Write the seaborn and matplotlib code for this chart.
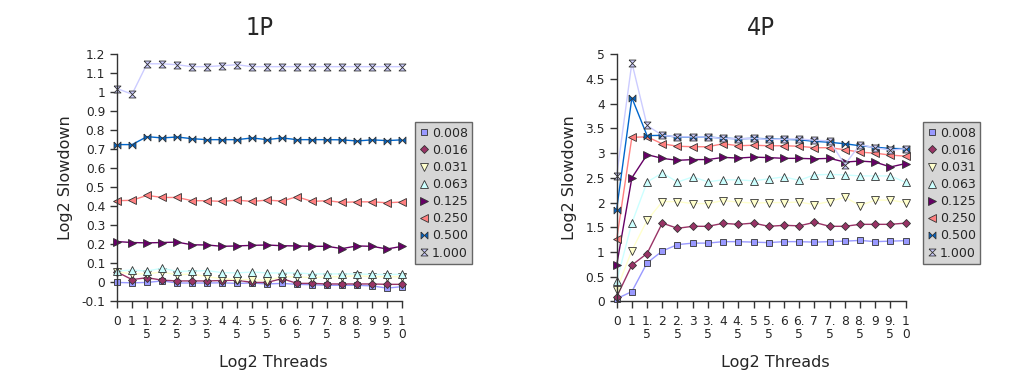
import numpy as np
import matplotlib
matplotlib.use("Agg")
import matplotlib.pyplot as plt
from matplotlib.lines import Line2D
import seaborn as sns

threads = ["0", "1", "1.5", "2", "2.5", "3", "3.5", "4", "4.5", "5",
           "5.5", "6", "6.5", "7", "7.5", "8", "8.5", "9", "9.5", "10"]
tick_labels = ["0", "1", "1.\n5", "2", "2.\n5", "3", "3.\n5", "4", "4.\n5", "5",
               "5.\n5", "6", "6.\n5", "7", "7.\n5", "8", "8.\n5", "9", "9.\n5", "1\n0"]
series_names = ["0.008", "0.016", "0.031", "0.063", "0.125", "0.250", "0.500", "1.000"]
colors = ["#9999FF", "#993366", "#FFFFCC", "#CCFFFF", "#660066", "#FF8080", "#0066CC", "#CCCCFF"]

# 1P panel
p1_0008 = [0.0, -0.002, 0.0, 0.008, -0.003, -0.003, -0.003, -0.002, -0.005, -0.003,
           -0.008, -0.005, -0.01, -0.012, -0.015, -0.015, -0.015, -0.018, -0.03, -0.022]
p1_0016 = [0.055, 0.015, 0.025, 0.012, 0.008, 0.008, 0.008, 0.01, 0.012, 0.0,
           0.0, 0.02, -0.005, -0.005, -0.008, -0.008, -0.008, -0.008, -0.01, -0.01]
p1_0031 = [0.055, 0.045, 0.045, 0.055, 0.04, 0.045, 0.03, 0.02, 0.015, 0.015,
           0.01, 0.03, 0.03, 0.025, 0.03, 0.03, 0.035, 0.03, 0.03, 0.03]
p1_0063 = [0.06, 0.065, 0.06, 0.075, 0.058, 0.06, 0.062, 0.052, 0.05, 0.055,
           0.05, 0.05, 0.05, 0.045, 0.045, 0.045, 0.045, 0.042, 0.042, 0.042]
p1_0125 = [0.215, 0.21, 0.208, 0.21, 0.212, 0.198, 0.197, 0.19, 0.192, 0.195,
           0.197, 0.193, 0.192, 0.19, 0.19, 0.178, 0.192, 0.19, 0.176, 0.19]
p1_0250 = [0.43, 0.432, 0.458, 0.447, 0.447, 0.43, 0.43, 0.426, 0.433, 0.426,
           0.433, 0.428, 0.451, 0.426, 0.43, 0.421, 0.424, 0.424, 0.419, 0.423]
p1_0500 = [0.725, 0.725, 0.767, 0.76, 0.765, 0.756, 0.751, 0.751, 0.751, 0.76,
           0.751, 0.76, 0.751, 0.751, 0.751, 0.75, 0.744, 0.75, 0.746, 0.75]
p1_1000 = [1.02, 0.99, 1.15, 1.15, 1.145, 1.135, 1.135, 1.14, 1.145, 1.135,
           1.135, 1.135, 1.135, 1.135, 1.135, 1.135, 1.135, 1.135, 1.135, 1.135]

# 4P panel
p4_0008 = [0.055, 0.2, 0.78, 1.02, 1.15, 1.18, 1.18, 1.21, 1.21, 1.2,
           1.19, 1.21, 1.21, 1.2, 1.21, 1.22, 1.235, 1.21, 1.22, 1.23]
p4_0016 = [0.09, 0.735, 0.97, 1.585, 1.48, 1.52, 1.52, 1.58, 1.56, 1.585,
           1.52, 1.54, 1.53, 1.6, 1.52, 1.52, 1.56, 1.56, 1.56, 1.585]
p4_0031 = [0.24, 1.03, 1.64, 2.02, 2.02, 1.98, 1.98, 2.04, 2.01, 1.99,
           2.0, 2.0, 2.01, 1.96, 2.02, 2.11, 1.94, 2.05, 2.05, 2.0]
p4_0063 = [0.41, 1.585, 2.415, 2.6, 2.415, 2.52, 2.42, 2.46, 2.46, 2.44,
           2.48, 2.52, 2.45, 2.56, 2.57, 2.56, 2.54, 2.54, 2.54, 2.41]
p4_0125 = [0.73, 2.5, 2.97, 2.895, 2.855, 2.87, 2.87, 2.915, 2.9, 2.92,
           2.91, 2.895, 2.895, 2.885, 2.895, 2.82, 2.84, 2.82, 2.72, 2.79]
p4_0250 = [1.255, 3.32, 3.33, 3.19, 3.14, 3.13, 3.13, 3.19, 3.15, 3.16,
           3.15, 3.15, 3.14, 3.11, 3.11, 3.07, 3.02, 3.0, 2.96, 2.94]
p4_0500 = [1.86, 4.12, 3.355, 3.36, 3.325, 3.325, 3.325, 3.305, 3.29, 3.3,
           3.29, 3.28, 3.27, 3.24, 3.22, 3.19, 3.15, 3.12, 3.095, 3.09]
p4_1000 = [2.54, 4.83, 3.56, 3.36, 3.33, 3.33, 3.325, 3.3, 3.29, 3.3,
           3.28, 3.28, 3.29, 3.26, 3.25, 2.77, 3.17, 3.11, 3.06, 3.09]

panel_1p = [p1_0008, p1_0016, p1_0031, p1_0063, p1_0125, p1_0250, p1_0500, p1_1000]
panel_4p = [p4_0008, p4_0016, p4_0031, p4_0063, p4_0125, p4_0250, p4_0500, p4_1000]

bowtie = np.array([(-1, 1), (-1, -1), (1, 1), (1, -1), (-1, 1)])
hourglass = np.array([(-1, 1), (1, 1), (-1, -1), (1, -1), (-1, 1)])
markers = ["s", "D", "v", "^", ">", "<", bowtie, hourglass]
msizes = [5, 4, 5.5, 5.5, 5.5, 5.5, 5, 5]

sns.set_style("ticks")
plt.rcParams["font.family"] = ["DejaVu Sans"]

fig = plt.figure(figsize=(10.24, 3.85), dpi=100)
ax1 = fig.add_axes([0.1143, 0.217, 0.2783, 0.642])
ax2 = fig.add_axes([0.6022, 0.217, 0.2822, 0.642])

pos = np.arange(len(threads))
edge = "#333333"


def draw_panel(ax, data, title, yticks, ylim, legend_x):
    for vals, c, m, ms in zip(data, colors, markers, msizes):
        sns.lineplot(x=pos, y=vals, ax=ax, color=c, marker=m, markersize=ms,
                     markeredgecolor=edge, markeredgewidth=0.6, linewidth=1.0,
                     legend=False)
    for line in ax.lines:
        line.set_clip_on(False)
    ax.set_xlim(0, len(threads) - 1)
    ax.set_ylim(*ylim)
    ax.set_xticks(pos)
    ax.set_xticklabels(tick_labels, fontsize=8.8, linespacing=1.0)
    ax.set_yticks(yticks)
    ax.set_yticklabels([f"{v:g}" for v in yticks], fontsize=8.8)
    ax.tick_params(direction="out", length=5, width=1, color=edge)
    ax.tick_params(axis="x", pad=5)
    for s in ["top", "right"]:
        ax.spines[s].set_visible(False)
    for s in ["left", "bottom"]:
        ax.spines[s].set_color(edge)
        ax.spines[s].set_linewidth(1)
    ax.set_title(title, fontsize=18, pad=14, fontstretch="condensed")
    ax.set_xlabel("Log2 Threads", fontsize=11.5)
    ax.set_ylabel("Log2 Slowdown", fontsize=11.5, labelpad=6)
    ax.xaxis.set_label_coords(0.55, -0.215)

    handles = [Line2D([], [], ls="none", marker=m, markersize=ms, markerfacecolor=c,
                      markeredgecolor=edge, markeredgewidth=0.6)
               for c, m, ms in zip(colors, markers, msizes)]
    leg = ax.legend(handles, series_names, loc="upper left",
                    bbox_to_anchor=(legend_x, 0.725), fontsize=9, frameon=True,
                    fancybox=False, framealpha=1, handlelength=0.7,
                    handletextpad=0.3, labelspacing=0.33, borderpad=0.35,
                    borderaxespad=0)
    leg.get_frame().set_facecolor("#d6d6d6")
    leg.get_frame().set_edgecolor("#666666")


draw_panel(ax1, panel_1p, "1P", np.round(np.arange(-0.1, 1.21, 0.1), 1), (-0.1, 1.2), 1.046)
draw_panel(ax2, panel_4p, "4P", np.arange(0, 5.01, 0.5), (0, 5), 1.06)

fig.savefig("out.png", dpi=100)
